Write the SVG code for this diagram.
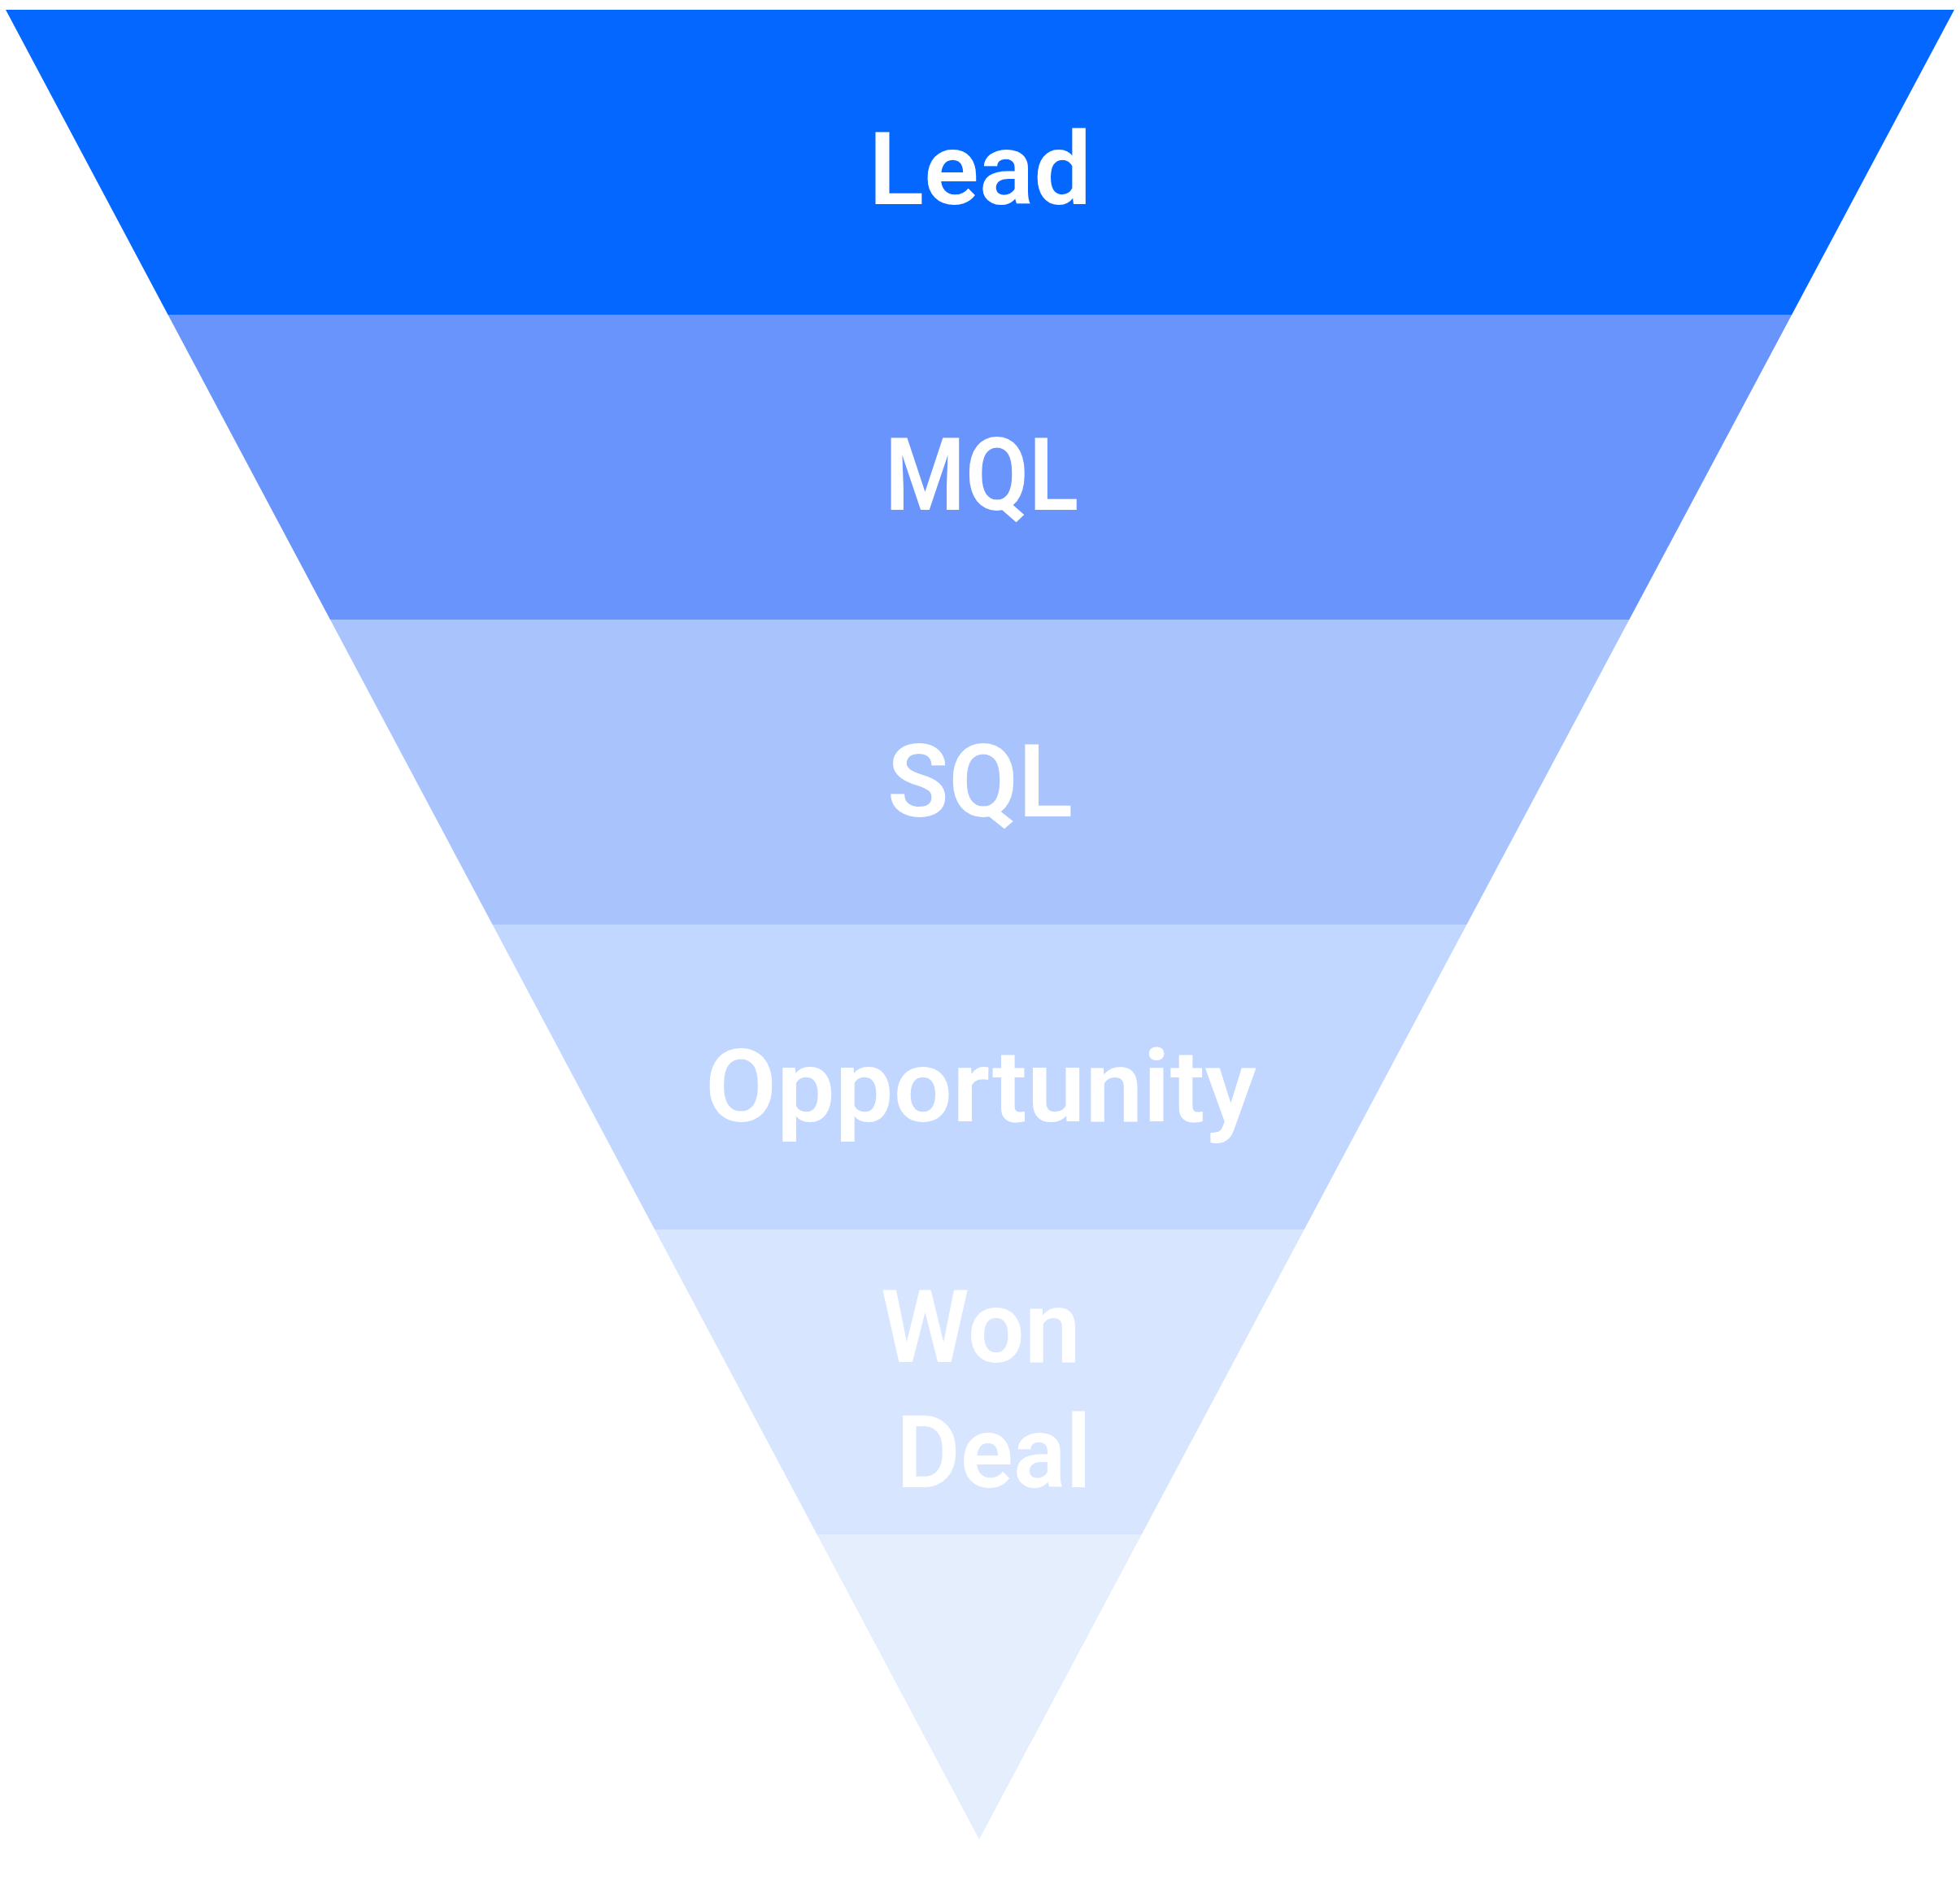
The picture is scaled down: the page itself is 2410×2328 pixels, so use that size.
<svg xmlns="http://www.w3.org/2000/svg" width="2410" height="2328" viewBox="0 0 2410 2328">
<style>
.lbl{font-family:Roboto,"Liberation Sans",sans-serif;font-weight:600;font-size:124px;fill:#ffffff;}
</style>
<rect width="2410" height="2328" fill="#ffffff"/>
<g id="band-lead"><polygon points="7,12 2403,12 2203.2,387 206.5,387" fill="#0467FF"/><text class="lbl" x="1205" y="251" text-anchor="middle" textLength="274" lengthAdjust="spacingAndGlyphs">Lead</text></g>
<g id="band-mql"><polygon points="206.5,387 2203.2,387 2003.3,762 406,762" fill="#6994FC"/><text class="lbl" x="1207" y="627" text-anchor="middle" textLength="238" lengthAdjust="spacingAndGlyphs">MQL</text></g>
<g id="band-sql"><polygon points="406,762 2003.3,762 1803.5,1137 605.5,1137" fill="#A9C4FD"/><text class="lbl" x="1205" y="1004" text-anchor="middle" textLength="228" lengthAdjust="spacingAndGlyphs">SQL</text></g>
<g id="band-opportunity"><polygon points="605.5,1137 1803.5,1137 1603.7,1512 805,1512" fill="#C1D7FF"/><text class="lbl" x="1206" y="1379" text-anchor="middle" textLength="678" lengthAdjust="spacingAndGlyphs">Opportunity</text></g>
<g id="band-won-deal"><polygon points="805,1512 1603.7,1512 1403.8,1887 1004.5,1887" fill="#D7E5FF"/><text class="lbl" x="1206" y="1675" text-anchor="middle" textLength="246" lengthAdjust="spacingAndGlyphs">Won</text><text class="lbl" x="1222" y="1829" text-anchor="middle" textLength="240" lengthAdjust="spacingAndGlyphs">Deal</text></g>
<g id="band-bottom"><polygon points="1004.5,1887 1403.8,1887 1204,2262" fill="#E5EEFD"/></g>
<g id="connectors"></g>
</svg>
